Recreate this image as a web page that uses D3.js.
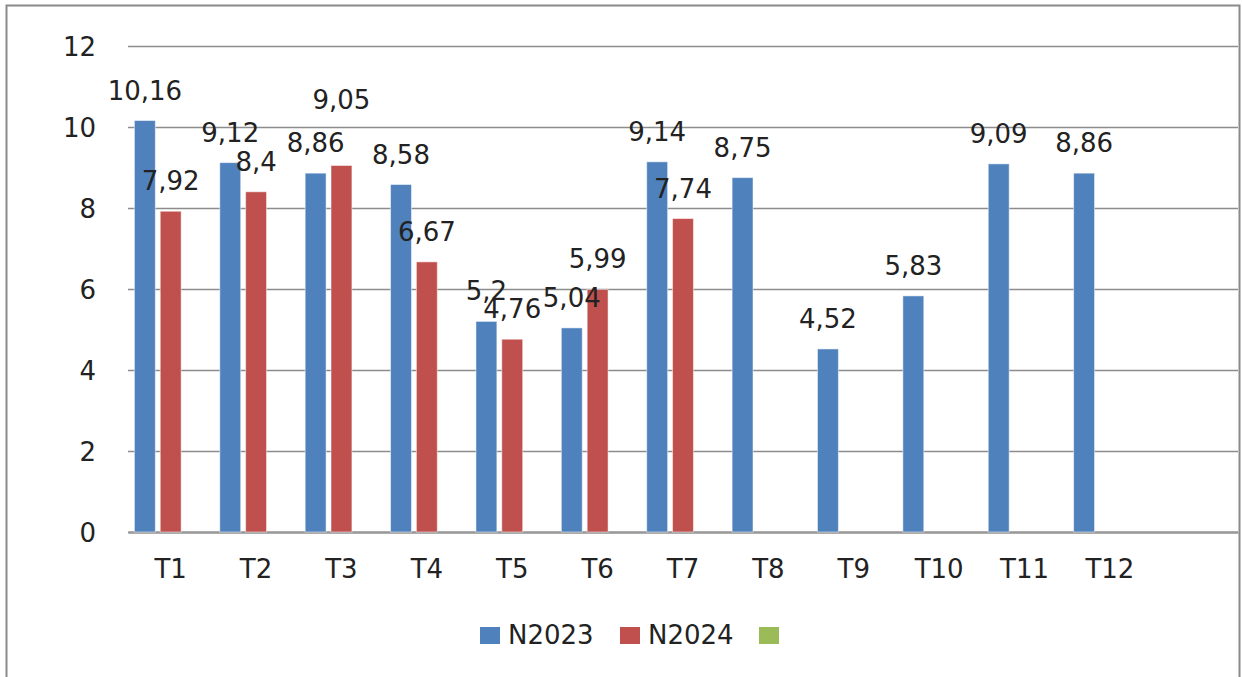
<!DOCTYPE html>
<html><head><meta charset="utf-8">
<script src="https://cdn.jsdelivr.net/npm/d3@7"></script>
<style>html,body{margin:0;padding:0;background:#fff;}svg{display:block;}</style>
</head><body>
<svg id="c" width="1242" height="677"></svg>
<script>
const categories = ["T1","T2","T3","T4","T5","T6","T7","T8","T9","T10","T11","T12",""];
const seriesNames = ["N2023","N2024",""];
const n2023 = [10.16,9.12,8.86,8.58,5.2,5.04,9.14,8.75,4.52,5.83,9.09,8.86,null];
const n2024 = [7.92,8.4,9.05,6.67,4.76,5.99,7.74,null,null,null,null,null,null];
const n2025 = [null,null,null,null,null,null,null,null,null,null,null,null,null];
const yTicks = [0,2,4,6,8,10,12];
const colors = ["#4F81BD","#C0504D","#9BBB59"];

(function(){
const seriesValues = [n2023,n2024,n2025];
const svg = d3.select("#c");
const font = "DejaVu Sans, Verdana, sans-serif";
const fs = 26;

// frame
svg.append("rect").attr("x",6.5).attr("y",5.5).attr("width",1233).attr("height",700)
  .attr("fill","#fff").attr("stroke","#8a8a8a").attr("stroke-width",2);

const pL = 128, pR = 1238, pT = 46, pB = 532;
const x0 = d3.scaleBand().domain(categories).range([pL,pR]).paddingInner(0.15).paddingOuter(0.075);
const x1 = d3.scaleBand().domain(d3.range(seriesNames.length)).range([0,x0.bandwidth()]).paddingInner(0.19);
const y = d3.scaleLinear().domain([0,12]).range([pB,pT]);

// gridlines
const yAxis = d3.axisLeft(y).tickValues(yTicks).tickSize(-(pR-pL)).tickPadding(32).tickFormat(d3.format("d"));
const gy = svg.append("g").attr("transform",`translate(${pL},0)`).call(yAxis);
gy.select(".domain").remove();
gy.selectAll(".tick line").attr("stroke","#8c8c8c").attr("stroke-width",1.5);
gy.selectAll(".tick text").attr("font-family",font).attr("font-size",fs).attr("fill","#222").attr("dy","0.36em");

// x axis
const xAxis = d3.axisBottom(x0).tickSize(0).tickPadding(28);
const gx = svg.append("g").attr("transform",`translate(0,${pB})`).call(xAxis);
gx.select(".domain").attr("stroke","#9a9a9a").attr("stroke-width",2.5);
gx.selectAll(".tick text").attr("font-family",font).attr("font-size",fs).attr("fill","#222").attr("dy","0.71em");

// bars
const flat = [];
categories.forEach((c,i)=>{
  seriesValues.forEach((arr,s)=>{
    if(arr[i]!=null) flat.push({c,s,v:arr[i]});
  });
});
svg.append("g").selectAll("rect").data(flat).join("rect")
  .attr("x",d=>x0(d.c)+x1(d.s))
  .attr("width",x1.bandwidth())
  .attr("y",d=>y(d.v))
  .attr("height",d=>y(0)-y(d.v))
  .attr("fill",d=>colors[d.s])
  .attr("stroke","rgba(255,255,255,0.5)").attr("stroke-width",1);

// data labels
const fmt = v => String(v).replace(".",",");
svg.append("g").selectAll("text").data(flat).join("text")
  .attr("x",d=>x0(d.c)+x1(d.s)+x1.bandwidth()/2)
  .attr("y",d=>y(d.v) - 21 - ((d.c==="T3" && d.s===1) ? 35 : 0))
  .attr("text-anchor","middle")
  .attr("font-family",font).attr("font-size",fs).attr("fill","#222")
  .text(d=>fmt(d.v));

// legend
const legendX = [480,620,759];
const lg = svg.append("g");
seriesNames.forEach((nm,i)=>{
  lg.append("rect").attr("x",legendX[i]).attr("y",627).attr("width",20).attr("height",17).attr("fill",colors[i]);
  lg.append("text").attr("x",legendX[i]+28).attr("y",635).attr("dy","0.36em")
    .attr("font-family",font).attr("font-size",fs).attr("fill","#222").text(nm);
});
})();
</script>
</body></html>
